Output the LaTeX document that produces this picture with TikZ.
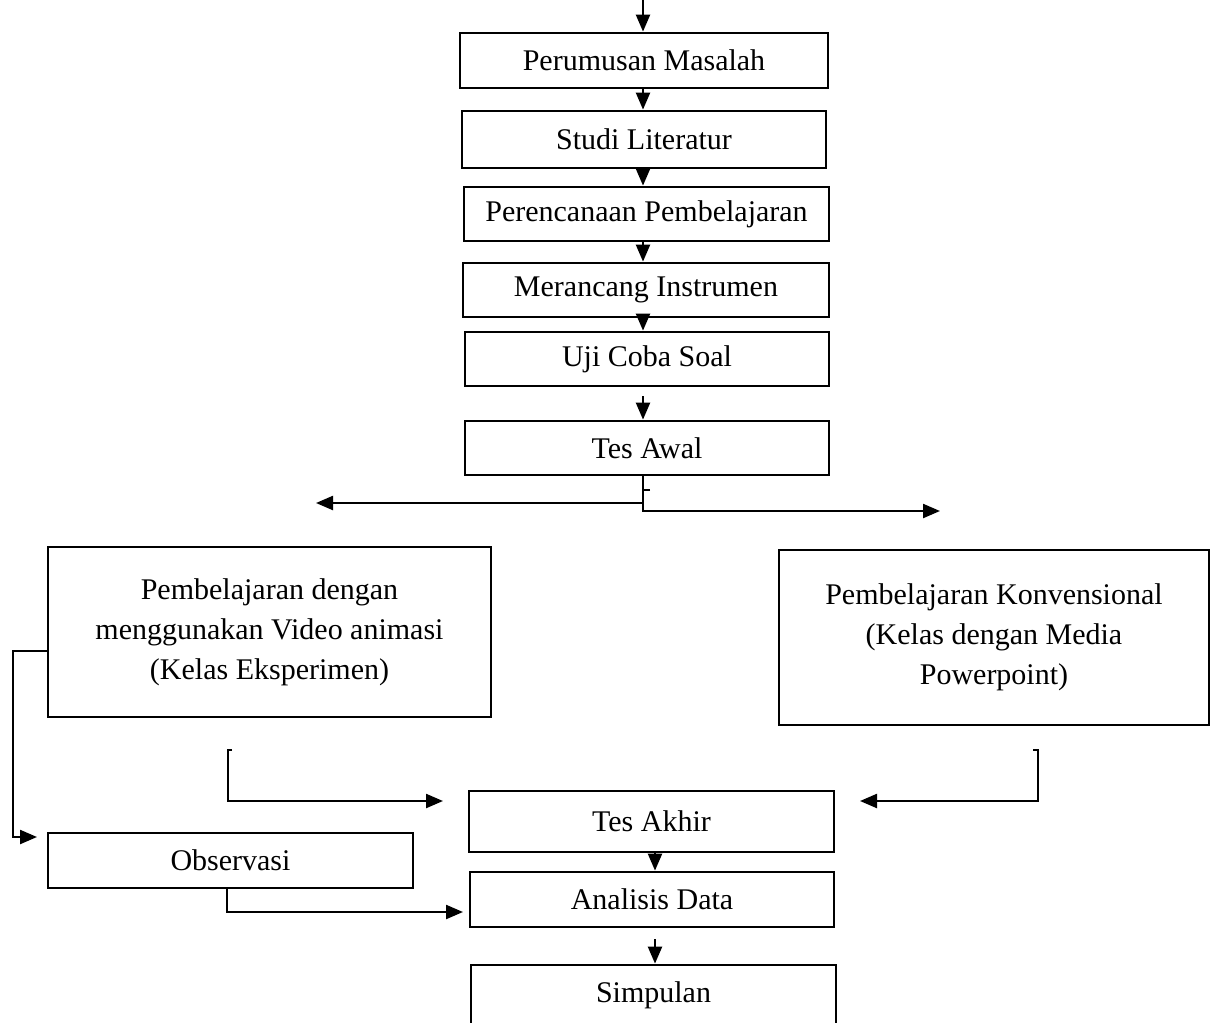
\documentclass[tikz,border=0pt]{standalone}
\usepackage{fontspec}
\setmainfont{Liberation Serif}
\usepackage{tikz}
\usetikzlibrary{arrows.meta}
\tikzset{
  kotak/.style={draw,line width=2.8pt,inner sep=0pt,align=center,font=\fontsize{30}{40}\selectfont},
  panah/.style={line width=2.3pt,-{Triangle[length=17pt,width=14pt]}},
  garis/.style={line width=2.3pt}
}

\begin{document}
\begin{tikzpicture}[x=1pt,y=-1pt]
\useasboundingbox (0,0) rectangle (1211,1023);
\node[kotak,minimum width=368pt,minimum height=55pt] (pm) at (644,60.5) {Perumusan Masalah};
\node[kotak,minimum width=364pt,minimum height=57pt] (sl) at (644,139.5) {Studi Literatur};
\node[kotak,minimum width=365pt,minimum height=54pt] (pp) at (646.5,214) {Perencanaan Pembelajaran};
\node[kotak,minimum width=366pt,minimum height=54pt] (mi) at (646,290) {Merancang Instrumen};
\node[kotak,minimum width=364pt,minimum height=54pt] (ucs) at (647,359) {Uji Coba Soal};
\node[kotak,minimum width=364pt,minimum height=54pt] (ta) at (647,448) {Tes Awal};
\node[kotak,minimum width=443pt,minimum height=170pt] (eks) at (269.5,632) {Pembelajaran dengan\\menggunakan Video animasi\\(Kelas Eksperimen)};
\node[kotak,minimum width=430pt,minimum height=175pt] (kon) at (994,637.5) {Pembelajaran Konvensional\\(Kelas dengan Media\\Powerpoint)};
\node[kotak,minimum width=365pt,minimum height=61pt] (tak) at (651.5,821.5) {Tes Akhir};
\node[kotak,minimum width=364pt,minimum height=55pt] (ad) at (652,899.5) {Analisis Data};
\node[kotak,minimum width=365pt,minimum height=60pt] (sim) at (653.5,995) {Simpulan};
\node[kotak,minimum width=365pt,minimum height=55pt] (obs) at (230.5,860.5) {Observasi};

\coordinate (awal) at (643,0);
\coordinate (kiri) at (316,503);
\coordinate (kanan) at (940,511);
\coordinate (masukkiri) at (443,801);
\coordinate (masukkanan) at (860,801);
\coordinate (masukobs) at (37,837);
\coordinate (masukad) at (463,912);

\draw[panah] (awal) -- (awal |- pm.north);
\draw[panah] (pm.south -| awal) -- (awal |- sl.north);
\draw[panah] (sl.south -| awal) -- (awal |- pp.north);
\draw[panah] (pp.south -| awal) -- (awal |- mi.north);
\draw[panah] (mi.south -| awal) -- (awal |- ucs.north);
\draw[panah] ([yshift=-9pt]ucs.south -| awal) -- (awal |- ta.north);
\draw[panah] (ta.south -| awal) -- (awal |- kiri) -- (kiri);
\draw[panah] (650,490) -- (643,490) -- (643,511) -- (kanan);
\draw[panah] (232,750) -- (228,750) -- (228,801) -- (masukkiri);
\draw[panah] (1033,750) -- (1038,750) -- (1038,801) -- (masukkanan);
\draw[panah] (eks.west |- 0,651) -- (13,651) -- (13,837) -- (masukobs);
\draw[panah] (obs.south -| 227,0) -- (227,912) -- (masukad);
\draw[panah] (tak.south -| 655,0) -- (655,0 |- ad.north);
\draw[panah] ([yshift=-11pt]ad.south -| 655,0) -- (655,0 |- sim.north);
\end{tikzpicture}
\end{document}
